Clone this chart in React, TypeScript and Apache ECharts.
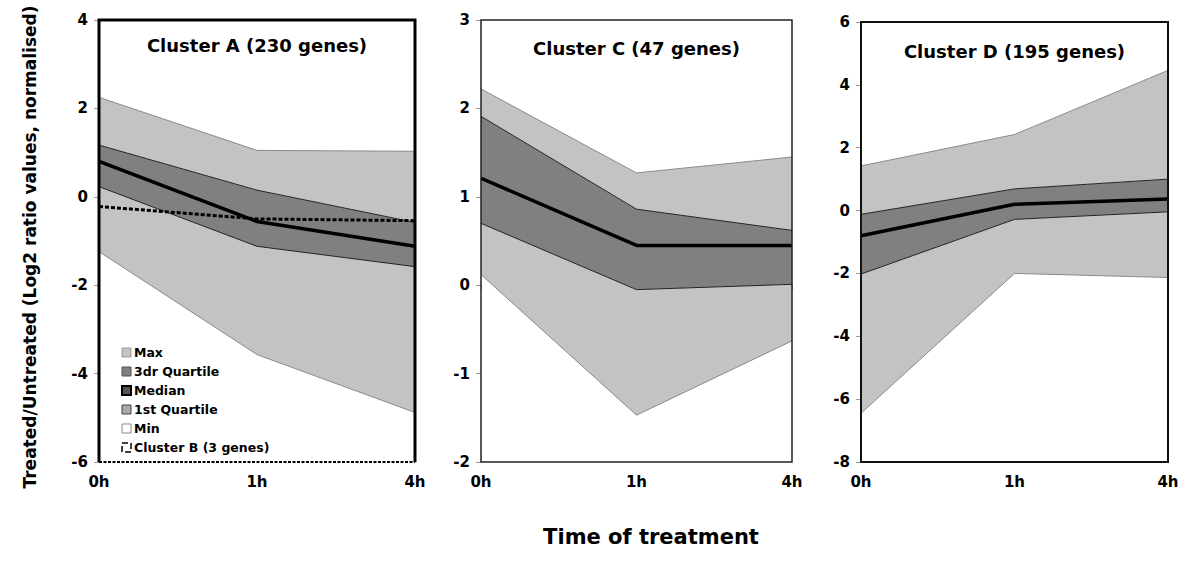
import React, { useEffect, useRef } from "react";
import * as echarts from "echarts";

const categories = ["0h", "1h", "4h"];

// Cluster A (230 genes)
const aMax = [2.25, 1.05, 1.03];
const aQ3 = [1.17, 0.15, -0.58];
const aMedian = [0.8, -0.56, -1.12];
const aQ1 = [0.23, -1.12, -1.58];
const aMin = [-1.24, -3.57, -4.88];
const clusterB = [-0.22, -0.5, -0.54];

// Cluster C (47 genes)
const cMax = [2.22, 1.27, 1.45];
const cQ3 = [1.91, 0.86, 0.62];
const cMedian = [1.21, 0.45, 0.45];
const cQ1 = [0.7, -0.05, 0.01];
const cMin = [0.12, -1.47, -0.63];

// Cluster D (195 genes)
const dMax = [1.42, 2.42, 4.46];
const dQ3 = [-0.12, 0.69, 1.0];
const dMedian = [-0.8, 0.2, 0.37];
const dQ1 = [-2.02, -0.28, -0.04];
const dMin = [-6.45, -2.0, -2.13];

const titles = ["Cluster A (230 genes)", "Cluster C (47 genes)", "Cluster D (195 genes)"];
const yRanges = [
  { min: -6, max: 4, interval: 2 },
  { min: -2, max: 3, interval: 1 },
  { min: -8, max: 6, interval: 2 },
];

const LIGHT = "#c3c3c3";
const DARK = "#808080";
const FONT = "DejaVu Sans";

const grids = [
  { left: 99, top: 20, width: 316, height: 442 },
  { left: 481, top: 20, width: 311, height: 442 },
  { left: 861, top: 22, width: 307, height: 440 },
];

function panelSeries(idx: number, mn: number[], q1: number[], q3: number[], mx: number[], med: number[]) {
  const stack = "s" + idx;
  const common = {
    type: "line",
    xAxisIndex: idx,
    yAxisIndex: idx,
    stack,
    stackStrategy: "all",
    symbol: "none",
    silent: true,
  };
  return [
    { ...common, name: "Min", data: mn, lineStyle: { color: "#8a8a8a", width: 1 }, itemStyle: { color: "#fff" } },
    {
      ...common,
      name: "1st Quartile",
      data: q1.map((v, i) => v - mn[i]),
      areaStyle: { color: LIGHT, opacity: 1 },
      lineStyle: { color: "#222", width: 1 },
      itemStyle: { color: LIGHT },
    },
    {
      ...common,
      name: "3dr Quartile",
      data: q3.map((v, i) => v - q1[i]),
      areaStyle: { color: DARK, opacity: 1 },
      lineStyle: { color: "#222", width: 1 },
      itemStyle: { color: DARK },
    },
    {
      ...common,
      name: "Max",
      data: mx.map((v, i) => v - q3[i]),
      areaStyle: { color: LIGHT, opacity: 1 },
      lineStyle: { color: "#8a8a8a", width: 1 },
      itemStyle: { color: LIGHT },
    },
    {
      type: "line",
      name: "Median",
      xAxisIndex: idx,
      yAxisIndex: idx,
      symbol: "none",
      silent: true,
      data: med,
      lineStyle: { color: "#000", width: 3.5 },
      itemStyle: { color: "#333" },
      z: 5,
    },
  ];
}

export default function App() {
  const ref = useRef<HTMLDivElement>(null);
  useEffect(() => {
    if (!ref.current) return;
    const chart = echarts.init(ref.current, undefined, { renderer: "svg" });
    const labelStyle = { fontFamily: FONT, fontWeight: "bold", fontSize: 15, color: "#000" };
    const option: any = {
      animation: false,
      backgroundColor: "#fff",
      grid: grids.map((g) => ({ ...g, containLabel: false })),
      xAxis: grids.map((_, i) => ({
        type: "category",
        gridIndex: i,
        data: categories,
        boundaryGap: false,
        axisLine: { show: false },
        axisTick: { show: true, length: 5, lineStyle: { color: "#999" } },
        axisLabel: { ...labelStyle, margin: 12 },
        splitLine: { show: false },
      })),
      yAxis: grids.map((_, i) => ({
        type: "value",
        gridIndex: i,
        ...yRanges[i],
        axisLine: { show: false },
        axisTick: { show: true, length: 5, lineStyle: { color: "#999" } },
        axisLabel: { ...labelStyle, margin: 11 },
        splitLine: { show: false },
      })),
      legend: {
        orient: "vertical",
        left: 116,
        top: 341,
        itemWidth: 9,
        itemHeight: 9,
        itemGap: 6,
        selectedMode: false,
        textStyle: { fontFamily: FONT, fontWeight: "bold", fontSize: 12.5, color: "#000", padding: [0, 0, 0, -2] },
        data: [
          { name: "Max", icon: "rect", itemStyle: { color: LIGHT, borderColor: "#999", borderWidth: 1 } },
          { name: "3dr Quartile", icon: "rect", itemStyle: { color: DARK, borderColor: "#555", borderWidth: 1 } },
          { name: "Median", icon: "rect", itemStyle: { color: "#555", borderColor: "#000", borderWidth: 2 } },
          { name: "1st Quartile", icon: "rect", itemStyle: { color: "#aaa", borderColor: "#444", borderWidth: 1 } },
          { name: "Min", icon: "rect", itemStyle: { color: "#fff", borderColor: "#888", borderWidth: 1 } },
          {
            name: "Cluster B (3 genes)",
            icon: "rect",
            itemStyle: { color: "#fff", borderColor: "#000", borderWidth: 1.5, borderType: "dashed" },
          },
        ],
      },
      series: [
        ...panelSeries(0, aMin, aQ1, aQ3, aMax, aMedian),
        {
          type: "line",
          name: "Cluster B (3 genes)",
          xAxisIndex: 0,
          yAxisIndex: 0,
          symbol: "none",
          silent: true,
          data: clusterB,
          lineStyle: { color: "#000", width: 3, type: [4, 2] },
          itemStyle: { color: "#fff" },
          z: 6,
        },
        ...panelSeries(1, cMin, cQ1, cQ3, cMax, cMedian),
        ...panelSeries(2, dMin, dQ1, dQ3, dMax, dMedian),
      ],
      graphic: [
        {
          type: "polyline",
          z: 100,
          shape: {
            points: [
              [grids[0].left, grids[0].top + grids[0].height],
              [grids[0].left, grids[0].top],
              [grids[0].left + grids[0].width, grids[0].top],
              [grids[0].left + grids[0].width, grids[0].top + grids[0].height],
            ],
          },
          style: { fill: null, stroke: "#000", lineWidth: 3 },
        },
        {
          type: "line",
          z: 100,
          shape: {
            x1: grids[0].left,
            y1: grids[0].top + grids[0].height,
            x2: grids[0].left + grids[0].width,
            y2: grids[0].top + grids[0].height,
          },
          style: { stroke: "#000", lineWidth: 2, lineDash: [3, 1.5] },
        },
        {
          type: "rect",
          z: 100,
          shape: { ...grids[1], x: grids[1].left, y: grids[1].top },
          style: { fill: null, stroke: "#222", lineWidth: 1.5 },
        },
        {
          type: "rect",
          z: 100,
          shape: { ...grids[2], x: grids[2].left, y: grids[2].top },
          style: { fill: null, stroke: "#111", lineWidth: 2 },
        },
        ...titles.map((t, i) => ({
          type: "text",
          z: 101,
          x: grids[i].left + grids[i].width / 2,
          y: [45, 48, 51][i],
          style: {
            text: t,
            fontFamily: FONT,
            fontWeight: "bold",
            fontSize: 18,
            fill: "#000",
            textAlign: "center",
            textVerticalAlign: "middle",
          },
        })),
        {
          type: "text",
          z: 101,
          x: 30,
          y: 247,
          rotation: Math.PI / 2,
          style: {
            text: "Treated/Untreated (Log2 ratio values, normalised)",
            fontFamily: FONT,
            fontWeight: "bold",
            fontSize: 17,
            fill: "#000",
            textAlign: "center",
            textVerticalAlign: "middle",
          },
        },
        {
          type: "text",
          z: 101,
          x: 651,
          y: 537,
          style: {
            text: "Time of treatment",
            fontFamily: FONT,
            fontWeight: "bold",
            fontSize: 21,
            fill: "#000",
            textAlign: "center",
            textVerticalAlign: "middle",
          },
        },
      ],
    };
    chart.setOption(option);
    return () => chart.dispose();
  }, []);
  return (
    <div
      ref={ref}
      style={{ position: "fixed", left: 0, top: 0, width: 1200, height: 573, background: "#fff" }}
    />
  );
}
